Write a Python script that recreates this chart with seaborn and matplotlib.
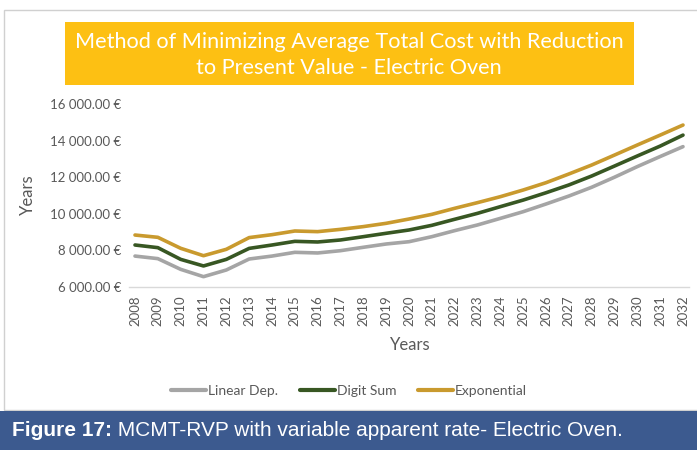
import numpy as np
import pandas as pd
import matplotlib
matplotlib.use("Agg")
import matplotlib.pyplot as plt
from matplotlib.patches import Rectangle
from matplotlib.ticker import FuncFormatter
import seaborn as sns

# ------------------------------------------------------------
# data
# ------------------------------------------------------------
years = list(range(2008, 2033))

linear_dep = [7690, 7550, 6965, 6565, 6930, 7530, 7690, 7895, 7860, 7985,
              8170, 8350, 8475, 8750, 9080, 9390, 9750, 10115, 10535, 10970,
              11450, 12000, 12580, 13130, 13670]
digit_sum = [8295, 8150, 7510, 7150, 7510, 8110, 8295, 8495, 8460, 8570,
             8750, 8935, 9115, 9370, 9700, 10025, 10390, 10750, 11150, 11575,
             12065, 12610, 13160, 13700, 14300]
exponential = [8840, 8715, 8115, 7710, 8060, 8700, 8860, 9060, 9025, 9150,
               9300, 9480, 9715, 9970, 10300, 10610, 10935, 11300, 11700, 12175,
               12665, 13210, 13760, 14300, 14850]

series_names = ["Linear Dep.", "Digit Sum", "Exponential"]
series_colors = ["#A5A5A5", "#385723", "#C99A2E"]

title_text = "Method of Minimizing Average Total Cost with Reduction\nto Present Value - Electric Oven"
caption_bold = "Figure 17:"
caption_rest = " MCMT-RVP with variable apparent rate- Electric Oven."

df = pd.DataFrame({
    "Year": years * 3,
    "Cost": linear_dep + digit_sum + exponential,
    "Method": [n for n in series_names for _ in years],
})

# ------------------------------------------------------------
# figure
# ------------------------------------------------------------
sns.set_style("white")
plt.rcParams["font.family"] = ["DejaVu Sans"]
gray_txt = "#595959"

fig = plt.figure(figsize=(6.97, 4.5), dpi=100)
W, H = 697, 450

def fx(px):
    return px / W

def fy(py):
    return 1 - py / H

# chart frame
fig.add_artist(Rectangle((fx(4), fy(410)), fx(700) - fx(4), fy(10) - fy(410),
                         transform=fig.transFigure, fill=False,
                         edgecolor="#D0D0D0", linewidth=1.0))

x0, x1 = 135, 683
pad = (x1 - x0) / 24 * 0.25
ax = fig.add_axes([fx(x0 - pad), fy(287), fx(x1 + pad) - fx(x0 - pad), fy(104) - fy(287)])

sns.lineplot(data=df, x="Year", y="Cost", hue="Method", palette=series_colors,
             hue_order=series_names, linewidth=2.6, ax=ax, legend=False)

ax.set_xlim(2008 - 0.25, 2032 + 0.25)
ax.set_ylim(6000, 16000)
ax.set_xticks(years)
ax.set_xticklabels([str(y) for y in years], rotation=90, fontfamily="Lato",
                   fontsize=9.5, color=gray_txt)
ax.set_yticks(range(6000, 16001, 2000))
ax.yaxis.set_major_formatter(FuncFormatter(
    lambda v, p: f"{v:,.2f} €".replace(",", " ")))
for lab in ax.get_yticklabels():
    lab.set_fontfamily("Lato")
    lab.set_fontsize(9.5)
    lab.set_color(gray_txt)
ax.tick_params(axis="both", length=0, pad=6)

for side in ["top", "right", "left"]:
    ax.spines[side].set_visible(False)
ax.spines["bottom"].set_color("#D9D9D9")
ax.spines["bottom"].set_linewidth(1.0)

ax.set_xlabel("")
ax.set_ylabel("")
fig.text(fx(410), fy(345), "Years", ha="center", va="center",
         fontfamily="Lato", fontsize=12, color=gray_txt)
fig.text(fx(28), fy(195), "Years", rotation=90, ha="center", va="center",
         fontfamily="Lato", fontsize=12, color=gray_txt)

# title box
fig.add_artist(Rectangle((fx(65), fy(85)), fx(634) - fx(65), fy(22) - fy(85),
                         transform=fig.transFigure, facecolor="#FDC013",
                         edgecolor="none"))
fig.text(fx(349), fy(55), title_text, ha="center", va="center",
         fontfamily="Lato", fontsize=15.6, color="white", linespacing=1.38)

# legend
handles = [plt.Line2D([0], [0], color=c, linewidth=3) for c in series_colors]
fig.legend(handles, series_names, loc="center", bbox_to_anchor=(fx(349), fy(391)),
           ncol=3, frameon=False, handlelength=2.5, handletextpad=0.15,
           columnspacing=1.6, prop={"family": "Lato", "size": 10},
           labelcolor=gray_txt)

# caption banner
fig.add_artist(Rectangle((0, 0), 1, fy(411), transform=fig.transFigure,
                         facecolor="#3C5A8F", edgecolor="none"))
t1 = fig.text(fx(12), fy(431), caption_bold, ha="left", va="center",
              fontfamily="Liberation Sans", fontweight="bold",
              fontsize=15, color="white")
fig.canvas.draw()
bb = t1.get_window_extent()
fig.text(bb.x1 / fig.dpi / fig.get_figwidth(), fy(431), caption_rest, ha="left",
         va="center", fontfamily="Liberation Sans", fontsize=15,
         color="white")

fig.savefig("out.png", dpi=100)
